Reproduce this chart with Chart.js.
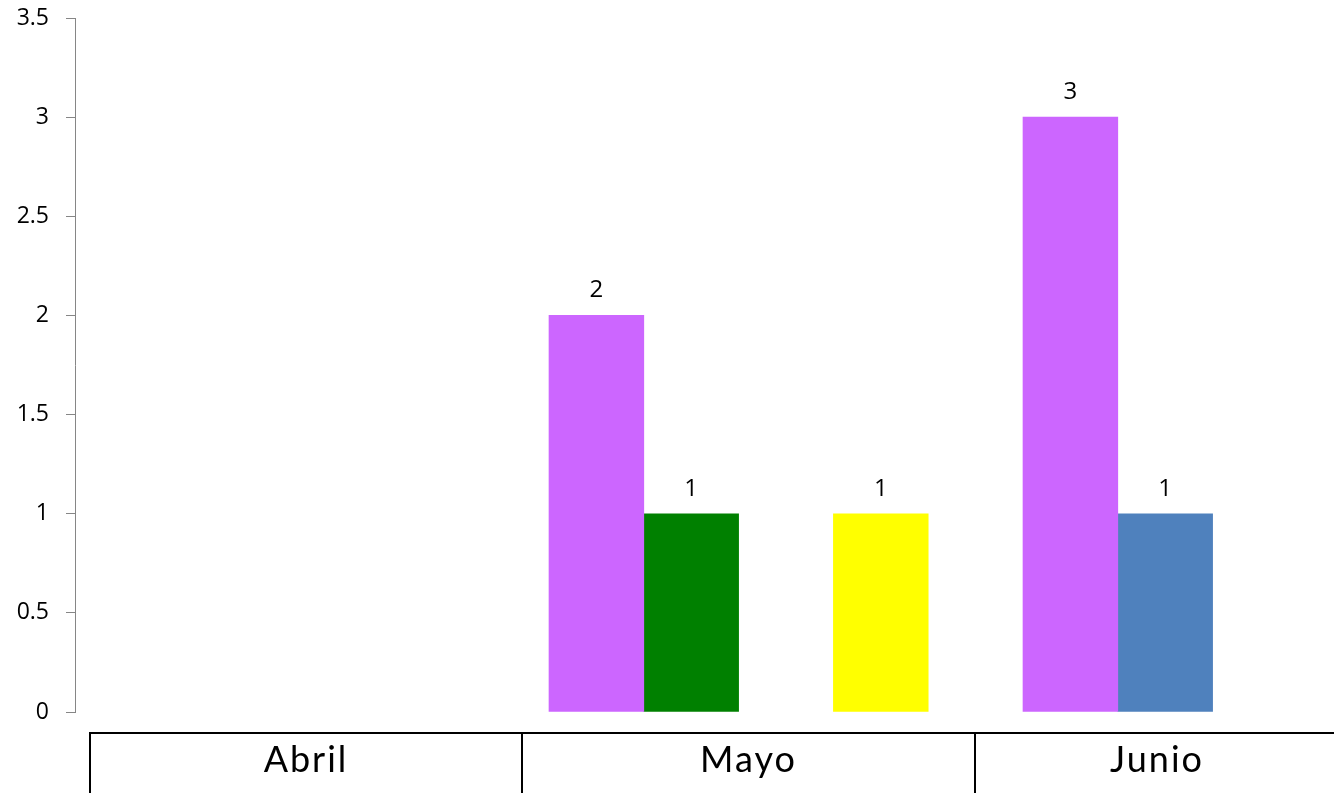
<!DOCTYPE html>
<html>
<head>
<meta charset="utf-8">
<script src="https://cdn.jsdelivr.net/npm/chart.js@4/dist/chart.umd.min.js"></script>
<style>
    html, body { margin: 0; padding: 0; background: #fff; overflow: hidden; width: 1334px; height: 793px; }
    #wrap { position: relative; width: 1334px; height: 793px; overflow: hidden; }
    #chart { position: absolute; left: 0; top: 0; }
    /* month table under the plot */
    #months { position: absolute; top: 732px; left: 89px; display: flex; height: 61px;
              border-top: 2px solid #000; font-family: Lato, "Open Sans", sans-serif; font-size: 36px;
              letter-spacing: 2px; color: #000; }
    #months div { border-left: 2px solid #000; text-align: center; line-height: 49px; box-sizing: border-box; }
</style>
</head>
<body>
<div id="wrap">
    <canvas id="chart" width="1497" height="793" style="width:1497px;height:793px"></canvas>
    <div id="months"></div>
</div>
<script>
// Chart data
const months = ['Abril', 'Mayo', 'Junio'];
const seriesNames = ['Serie 1', 'Serie 2', 'Serie 3', 'Serie 4', 'Serie 5'];
const serie1 = [null, 2, 3];
const serie2 = [null, 1, 1];
const serie3 = [null, null, null];
const serie4 = [null, 1, null];
const serie5 = [null, null, null];
const yTicks = [0, 0.5, 1, 1.5, 2, 2.5, 3, 3.5];

// Colours (serie 2 is coloured per month)
const colors = ['#CC66FF', ['#008000', '#008000', '#4F81BD'], '#999999', '#FFFF00', '#999999'];
const cellWidths = ['432px', '453px', '364px'];

// Build the month table below the plot
const monthsBox = document.getElementById('months');
months.forEach((m, i) => {
    const cell = document.createElement('div');
    cell.style.width = cellWidths[i];
    cell.textContent = m;
    monthsBox.appendChild(cell);
});

// Value labels above each bar
const barLabels = {
    id: 'barLabels',
    afterDatasetsDraw(chart) {
        const ctx = chart.ctx;
        ctx.save();
        ctx.font = '24px "Open Sans", sans-serif';
        ctx.fillStyle = '#000';
        ctx.textAlign = 'center';
        ctx.textBaseline = 'alphabetic';
        chart.data.datasets.forEach((ds, i) => {
            chart.getDatasetMeta(i).data.forEach((bar, j) => {
                const v = ds.data[j];
                if (v === null) return;
                ctx.fillText(v, bar.x, bar.y - 18);
            });
        });
        ctx.restore();
    }
};

const allSeries = [serie1, serie2, serie3, serie4, serie5];

const ctx = document.getElementById('chart').getContext('2d');
const chart = new Chart(ctx, {
    type: 'bar',
    data: {
        labels: months,
        datasets: allSeries.map((s, i) => ({
            label: seriesNames[i],
            data: s,
            backgroundColor: colors[i],
            borderWidth: 0,
            categoryPercentage: 1,
            barPercentage: 1
        }))
    },
    options: {
        responsive: false,
        animation: false,
        layout: { padding: { top: 18, bottom: 81, left: 0, right: 0 } },
        plugins: {
            legend: { display: false },
            tooltip: { enabled: false }
        },
        scales: {
            x: { display: false },
            y: {
                min: 0,
                max: 3.5,
                afterBuildTicks: (scale) => { scale.ticks = yTicks.map(v => ({ value: v })); },
                afterFit: (scale) => {
                    scale.width = 75;
                    scale.paddingTop = 0;
                    scale.paddingBottom = 0;
                },
                ticks: {
                    color: '#000',
                    padding: 17,
                    font: { family: '"Open Sans", sans-serif', size: 23 },
                    callback: (v) => String(v)
                },
                grid: {
                    drawOnChartArea: false,
                    drawTicks: true,
                    tickLength: 9,
                    color: '#868686'
                },
                border: { color: '#868686', width: 1 }
            }
        }
    },
    plugins: [barLabels]
});
</script>
</body>
</html>
